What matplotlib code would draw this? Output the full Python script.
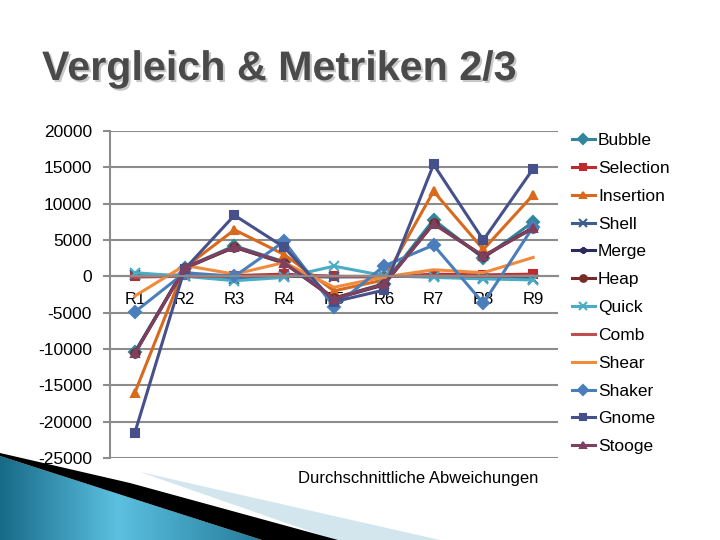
import numpy as np
import matplotlib
matplotlib.use('Agg')
import matplotlib.pyplot as plt
from matplotlib.patches import Polygon
import matplotlib.patheffects as pe

plt.rcParams['font.family'] = ['Liberation Sans', 'DejaVu Sans']
plt.rcParams['axes.unicode_minus'] = False

# ---- data ----
categories = ['R1', 'R2', 'R3', 'R4', 'R5', 'R6', 'R7', 'R8', 'R9']
bubble    = [-10400, 1200, 4200, 2000, -3000, -1000, 7800, 2500, 7500]
selection = [0, 200, 100, 300, 0, -100, 300, 200, 300]
insertion = [-16000, 1200, 6400, 3000, -2000, -500, 11700, 3700, 11200]
shell     = [200, 100, -300, 0, -100, 0, 0, -200, -300]
merge     = [-10500, 1100, 4000, 1800, -3100, -1200, 7300, 2700, 6700]
heap      = [-10600, 1200, 4000, 1900, -3000, -1100, 7300, 2800, 6700]
quick     = [500, 0, -600, -150, 1400, 100, -150, -350, -500]
comb      = [-100, 0, 0, 100, 0, 0, 100, 0, 100]
shear     = [-2700, 1500, 300, 1900, -1500, -100, 900, 500, 2600]
shaker    = [-4900, 500, 0, 4800, -4200, 1400, 4300, -3700, 6800]
gnome     = [-21500, 1000, 8400, 4000, -3500, -1900, 15400, 5000, 14800]
stooge    = [-10600, 1100, 4100, 1900, -3100, -1100, 7200, 2800, 6600]

series = [
    ('Bubble', bubble, '#31859C', 'D'),
    ('Selection', selection, '#BE2A2E', 's'),
    ('Insertion', insertion, '#D9691C', '^'),
    ('Shell', shell, '#3B5E8C', 'x'),
    ('Merge', merge, '#2C2C5C', (6, 2, 0)),
    ('Heap', heap, '#772C2A', 'o'),
    ('Quick', quick, '#4BACC6', 'x'),
    ('Comb', comb, '#C0504D', '_'),
    ('Shear', shear, '#F08A3C', None),
    ('Shaker', shaker, '#4A7EBB', 'D'),
    ('Gnome', gnome, '#46508A', 's'),
    ('Stooge', stooge, '#7F3F5F', '^'),
]

fig = plt.figure(figsize=(7.2, 5.4), dpi=100)
fig.patch.set_facecolor('white')

# ---- bottom-left decoration ----
def px(pts):
    return [(x / 720, 1 - y / 540) for x, y in pts]

blue_poly = Polygon(px([(0, 456), (262, 540), (0, 540)]), transform=fig.transFigure,
                    facecolor='none', edgecolor='none')
fig.add_artist(blue_poly)
grad_ax = fig.add_axes([0, 0, 262 / 720, 85 / 540])
grad_ax.axis('off')
g = np.linspace(0, 1, 256)
grad = np.vstack([np.interp(g, [0, 0.45, 1], [0.0, 1.0, 0.2])] * 10)
grad_ax.imshow(grad, aspect='auto', cmap=matplotlib.colors.LinearSegmentedColormap.from_list(
    'b', ['#176a88', '#5cc0e0']), extent=[0, 1, 0, 1])
grad_ax.images[0].set_clip_path(blue_poly)
fig.add_artist(Polygon(px([(140, 472), (440, 540), (335, 540)]), transform=fig.transFigure,
                       facecolor='#d3e6ee', edgecolor='none'))
fig.add_artist(Polygon(px([(0, 453), (130, 483), (338, 540), (262, 540), (0, 456)]),
                       transform=fig.transFigure, facecolor='black', edgecolor='none'))

# ---- title ----
fig.text(42 / 720, 1 - 69 / 540, 'Vergleich & Metriken 2/3', fontsize=29.7, fontweight='bold',
         color='#4a4a4a', va='center', ha='left',
         path_effects=[pe.withSimplePatchShadow(offset=(1.5, -1.5), shadow_rgbFace='#bbbbbb', alpha=0.8)])

# ---- chart ----
ax = fig.add_axes([110 / 720, 1 - 458 / 540, 448 / 720, 327 / 540])
x = np.arange(len(categories))
for name, vals, col, mk in series:
    ax.plot(x, vals, color=col, lw=2.2, marker=mk, markersize=6 if mk not in ('x', '_') else 7,
            markeredgewidth=1.5, label=name)

ax.set_xlim(-0.5, 8.5)
ax.set_ylim(-25000, 20000)
ax.set_yticks(np.arange(-25000, 20001, 5000))
ax.yaxis.grid(True, color='#8c8c8c', lw=1.5)
ax.set_axisbelow(True)
for s in ['top', 'right']:
    ax.spines[s].set_visible(False)
ax.spines['left'].set_color('#8c8c8c')
ax.spines['left'].set_linewidth(1.5)
ax.spines['bottom'].set_position(('data', 0))
ax.spines['bottom'].set_color('#8c8c8c')
ax.spines['bottom'].set_linewidth(1.5)
ax.set_xticks(x)
ax.set_xticklabels(categories)
ax.tick_params(axis='x', length=0, pad=11, labelsize=12)
ax.tick_params(axis='y', length=5, color='#8c8c8c', width=1.5, labelsize=12.5, pad=8)

fig.text(418 / 720, 1 - 478 / 540, 'Durchschnittliche Abweichungen', fontsize=12,
         ha='center', va='center')

handles, labels = ax.get_legend_handles_labels()
fig.legend(handles, labels, loc='upper left', bbox_to_anchor=(572 / 720, 1 - 133 / 540),
           frameon=False, fontsize=12.5, handlelength=1.3, handletextpad=0.2,
           labelspacing=0.73, borderaxespad=0, borderpad=0, markerscale=0.8)

fig.savefig('out.png', dpi=100, facecolor='white')
